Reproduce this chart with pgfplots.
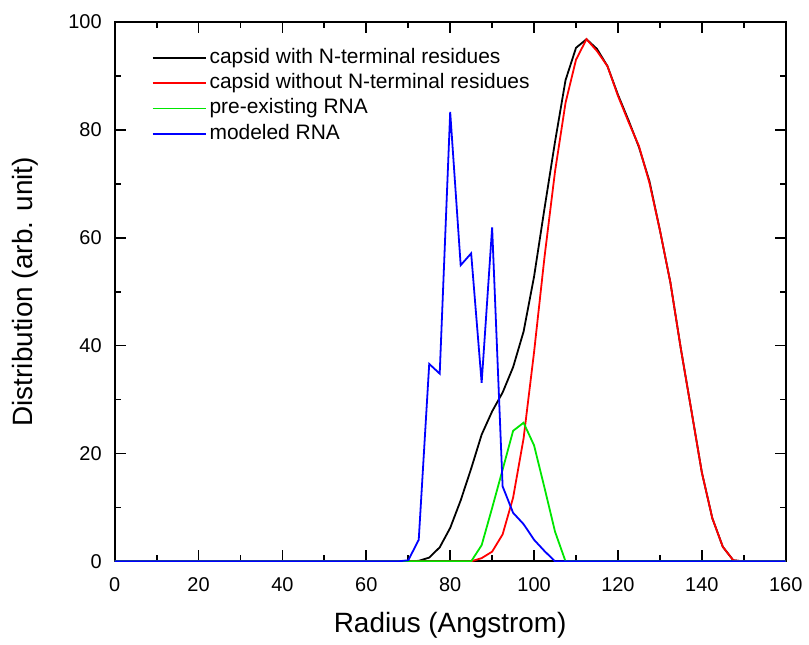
\documentclass[border=0pt]{standalone}
\usepackage{fontspec}
\setmainfont{Liberation Sans}
\usepackage{pgfplots}
\pgfplotsset{compat=1.18}
\definecolor{pgreen}{RGB}{0,230,0}

\begin{document}
\begin{tikzpicture}
\begin{axis}[
    scale only axis,
    width=336.5pt,
    height=270.5pt,
    xmin=0, xmax=160,
    ymin=0, ymax=100,
    xtick distance=20,
    ytick distance=20,
    minor x tick num=1,
    minor y tick num=1,
    tick align=inside,
    major tick length=5.5pt,
    minor tick length=3pt,
    every tick/.style={black, line width=0.9pt},
    axis line style={line width=0.9pt},
    /pgf/number format/assume math mode=true,
    tick label style={font=\fontsize{10}{12}\selectfont},
    xticklabel style={yshift=-4.5pt},
    yticklabel style={xshift=-3pt},
    xlabel={Radius (Angstrom)},
    ylabel={Distribution (arb. unit)},
    label style={font=\fontsize{14}{16}\selectfont},
    xlabel style={at={([yshift=-35.5pt]axis description cs:0.5,0)}, anchor=base},
    ylabel style={at={([xshift=-41pt]axis description cs:0,0.5)}, anchor=base},
    legend cell align=left,
    legend style={
        draw=none, fill=none,
        at={([xshift=18.5pt,yshift=-11.5pt]axis description cs:0,1)},
        anchor=north west,
        font=\fontsize{10.5}{12}\selectfont,
        inner sep=0pt,
        row sep=0pt,
        nodes={inner sep=1.5pt, text height=0.75em, text depth=0.22em},
    },
    legend image code/.code={
        \draw[#1, line width=0.9pt] (0pt,0pt) -- (24pt,0pt);
        \path (0pt,0pt) -- (26.5pt,0pt);
    },
]
\addplot[color=black, line width=0.9pt] coordinates {
    (0,0) (70,0) (72.5,0.1) (75,0.7) (77.5,2.6) (80,6.2) (82.5,11.3)
    (85,17.2) (87.5,23.5) (90,27.8) (92.5,31.3) (95,36.0) (97.5,42.6)
    (100,52.8) (102.5,65.5) (105,77.8) (107.5,89.2) (110,95.2) (112.5,96.8)
    (115,95.0) (117.5,91.8) (120,86.5) (122.5,81.8) (125,76.8) (127.5,70.5)
    (130,61.4) (132.5,51.7) (135,39.4) (137.5,28.0) (140,16.5) (142.5,8.0)
    (145,2.7) (147.5,0.2) (150,0) (160,0)
};
\addlegendentry{capsid with N-terminal residues}
\addplot[color=red, line width=0.9pt] coordinates {
    (0,0) (85,0) (87.5,0.6) (90,1.8) (92.5,5.0) (95,11.8) (97.5,22.8)
    (100,38.8) (102.5,56.5) (105,72.3) (107.5,85.0) (110,93.0) (112.5,96.8)
    (115,94.6) (117.5,91.8) (120,86.3) (122.5,81.5) (125,77.0) (127.5,70.2)
    (130,61.4) (132.5,51.7) (135,39.4) (137.5,28.0) (140,16.5) (142.5,8.0)
    (145,2.7) (147.5,0.2) (150,0) (160,0)
};
\addlegendentry{capsid without N-terminal residues}
\addplot[color=pgreen, line width=0.9pt] coordinates {
    (0,0) (85,0) (87.5,3.0) (90,9.9) (92.5,17.0) (95,24.2) (97.5,25.7)
    (100,21.5) (102.5,13.6) (105,5.5) (107.5,0) (160,0)
};
\addlegendentry{pre-existing RNA}
\addplot[color=blue, line width=0.9pt] coordinates {
    (0,0) (67.5,0) (70,0.2) (72.5,4.0) (75,36.6) (77.5,34.8) (80,83.3)
    (82.5,54.9) (85,57.1) (87.5,33.1) (90,61.9) (92.5,13.9) (95,9.0)
    (97.5,6.9) (100,4.0) (102.5,1.9) (105,0) (160,0)
};
\addlegendentry{modeled RNA}
\end{axis}
\path (current axis.south west) ++(-57.5pt,-39pt) (current axis.north east) ++(10.5pt,11pt);
\end{tikzpicture}
\end{document}
